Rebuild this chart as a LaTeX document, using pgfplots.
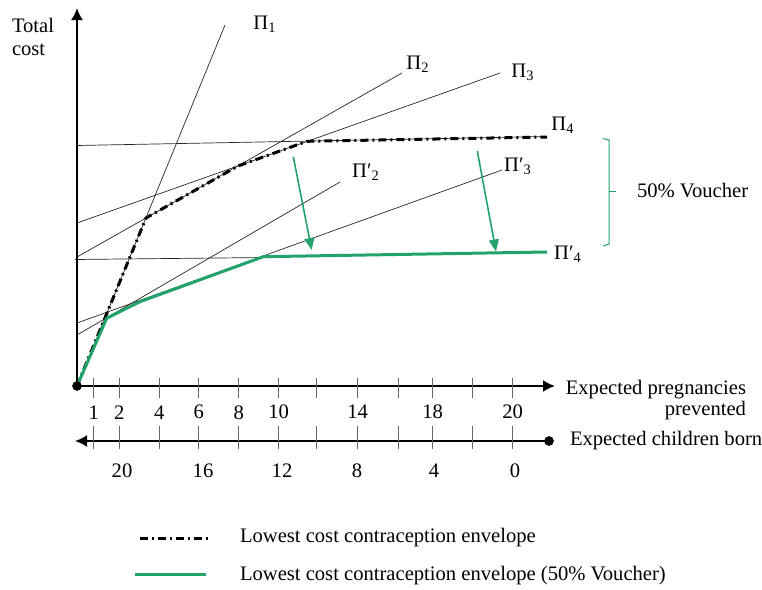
\documentclass[border=0pt]{standalone}
\usepackage{fontspec}
\setmainfont{Liberation Serif}
\usepackage{pgfplots}
\pgfplotsset{compat=1.18}
\usetikzlibrary{arrows.meta}
\definecolor{vgreen}{HTML}{22A36B}
\tikzset{t/.style={font=\fontsize{10.3}{11.5}\selectfont, inner sep=0pt, outer sep=0pt}}
\begin{document}
\begin{tikzpicture}
\begin{axis}[
    width=381pt, height=295pt, scale only axis,
    xmin=0, xmax=762, ymin=0, ymax=590, y dir=reverse,
    hide axis, clip=false,
]
\coordinate (bbA) at (axis cs:0,0);
\coordinate (bbB) at (axis cs:762,590);

% thin cost lines (pi-lines)
\addplot[black!85, line width=0.35pt] coordinates {(77,386) (225,25)};     % Pi1
\addplot[black!85, line width=0.35pt] coordinates {(77,257) (402,73)};     % Pi2
\addplot[black!85, line width=0.35pt] coordinates {(77,223) (500,73)};     % Pi3
\addplot[black!85, line width=0.35pt] coordinates {(77,145.5) (547,136.5)}; % Pi4
\addplot[black!85, line width=0.35pt] coordinates {(77,335) (340,182)};    % Pi'2
\addplot[black!85, line width=0.35pt] coordinates {(77,323) (502,170)};    % Pi'3
\addplot[black!85, line width=0.35pt] coordinates {(75,259.5) (265,257.5)}; % Pi'4

% envelopes
\addplot[black, line width=1.5pt, dash pattern=on 4pt off 2pt on 1pt off 2pt]
    coordinates {(77,386) (146,218) (238,166) (307,141.3) (547,137)};
\addplot[vgreen, line width=1.5pt]
    coordinates {(77,386) (106.7,318.3) (140,301.7) (263.3,256.7) (547,252)};

% voucher arrows
\addplot[vgreen, line width=0.8pt, -{Triangle[length=6pt,width=5pt]}]
    coordinates {(293.3,156.7) (311.7,250)};
\addplot[vgreen, line width=0.8pt, -{Triangle[length=6pt,width=5pt]}]
    coordinates {(477.3,151) (496,251.5)};

% bracket
\addplot[vgreen, line width=0.5pt] coordinates {(603,138.5) (609,140) (609,244) (603,246)};
\addplot[vgreen, line width=0.5pt] coordinates {(609,191.5) (616,191.5)};

% axes
\addplot[black, line width=1pt, -{Latex[length=6pt,width=6pt]}] coordinates {(77,386) (77,8)};
\addplot[black, line width=1pt, -{Latex[length=6pt,width=6pt]}] coordinates {(77,386) (555,386)};
\addplot[black, line width=1pt, -{Latex[length=6pt,width=6pt]}] coordinates {(549,441) (75,441)};
\addplot[only marks, mark=*, mark size=2.2pt, black] coordinates {(77,386) (549,441)};

% tick marks
\pgfplotsinvokeforeach{93.7,119.3,159.3,198.7,238.7,278.7,316,357.7,398.3,432.7,472.7,512.7}{
  \addplot[black!60, line width=0.4pt] coordinates {(#1,378) (#1,398)};
  \addplot[black!60, line width=0.4pt] coordinates {(#1,426) (#1,449)};
}

% tick labels
\node[t] at (axis cs:93.7,413) {1};
\node[t] at (axis cs:119.3,413) {2};
\node[t] at (axis cs:159.3,413) {4};
\node[t] at (axis cs:198.7,412) {6};
\node[t] at (axis cs:238.7,413) {8};
\node[t] at (axis cs:278.7,412) {10};
\node[t] at (axis cs:357.7,412) {14};
\node[t] at (axis cs:432.7,412) {18};
\node[t] at (axis cs:512.7,412) {20};

\node[t] at (axis cs:122,471) {20};
\node[t] at (axis cs:203,471) {16};
\node[t] at (axis cs:282,471) {12};
\node[t] at (axis cs:357,471) {8};
\node[t] at (axis cs:434,471) {4};
\node[t] at (axis cs:515,471) {0};

% axis titles
\node[t, anchor=west, align=left] at (axis cs:12,37) {Total\\cost};
\node[t, anchor=east, align=right] at (axis cs:746,400) {Expected pregnancies\\[-1pt]prevented};
\node[t, anchor=west] at (axis cs:570,441) {Expected children born};

% pi labels
\node[t] at (axis cs:265,24) {Π\textsubscript{1}};
\node[t] at (axis cs:418,64) {Π\textsubscript{2}};
\node[t] at (axis cs:523,72) {Π\textsubscript{3}};
\node[t] at (axis cs:563,125) {Π\textsubscript{4}};
\node[t] at (axis cs:366,172) {Π′\textsubscript{2}};
\node[t] at (axis cs:518,166) {Π′\textsubscript{3}};
\node[t] at (axis cs:568,254) {Π′\textsubscript{4}};
\node[t, anchor=west] at (axis cs:637,191) {50\% Voucher};

% legend
\addplot[black, line width=1.5pt, dash pattern=on 4pt off 2pt on 1pt off 2pt]
    coordinates {(140,538) (210,538)};
\addplot[vgreen, line width=1.5pt] coordinates {(135,574) (206,574)};
\node[t, anchor=west] at (axis cs:240,538) {Lowest cost contraception envelope};
\node[t, anchor=west] at (axis cs:240,576) {Lowest cost contraception envelope (50\% Voucher)};
\end{axis}
\pgfresetboundingbox
\useasboundingbox (bbA) rectangle (bbB);
\end{tikzpicture}
\end{document}
